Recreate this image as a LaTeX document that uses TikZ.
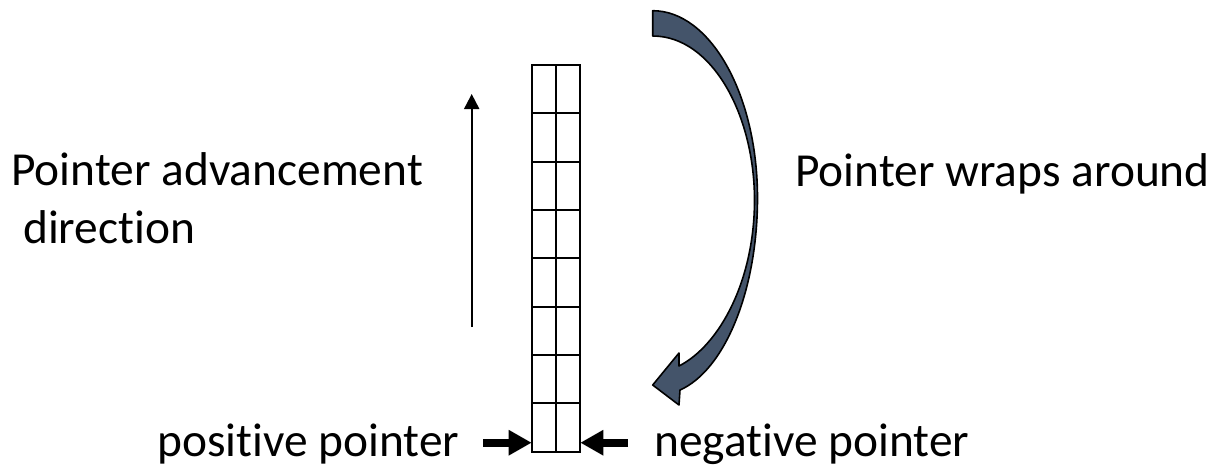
\documentclass[tikz,border=0pt]{standalone}
\usepackage{fontspec}
\setmainfont{Carlito}[Ligatures=NoCommon]
\usepackage{tikz}
\usetikzlibrary{arrows.meta, calc}
\definecolor{WrapSlate}{HTML}{44546A}

\begin{document}
\begin{tikzpicture}[x=0.5pt, y=-0.5pt,
    cell/.style={rectangle, draw=black, line width=1pt, minimum width=12.15pt,
                 minimum height=24.15pt, inner sep=0pt, outer sep=0pt},
    lbl/.style={inner sep=0pt, align=left, font=\fontsize{23.7}{29}\selectfont},
    advarrow/.style={-{Triangle[width=7.5pt, length=7.5pt]}, line width=1pt},
    ptrarrow/.style={-{Triangle[width=12pt, length=11.5pt]}, line width=3.8pt},
    wraparrow/.style={fill=WrapSlate, draw=black, line width=0.8pt, line join=round}
]
    \useasboundingbox (0,0) rectangle (1216,468);
    % buffer column, row 0 at the top
    \foreach \i in {0,...,7} {
        \pgfmathsetmacro{\yc}{89.17+48.33*\i}
        \node[cell] (l\i) at (543.85,\yc) {};
        \node[cell] (r\i) at (568.15,\yc) {};
    }
    \node[lbl, anchor=base west] (advText) at (11,243.5) {Pointer advancement\\\hspace*{0.25em}direction};
    \node[lbl, anchor=base west] (wrapText) at (795,186) {Pointer wraps around};
    \node[lbl, anchor=base west] (posText) at (157,456.7) {positive pointer};
    \node[lbl, anchor=base west] (negText) at (654,456.7) {negative pointer};
    \coordinate (advTail) at (471.7,327);
    \coordinate (advHead) at (471.7,94);
    \draw[advarrow] (advTail) -- (advHead);
    \coordinate (posTail) at (483,442.7);
    \coordinate (negTail) at (628,442.7);
    \draw[ptrarrow] (posTail) -- (posTail -| l7.west);
    \draw[ptrarrow] (negTail) -- (negTail -| r7.east);
    % wrap-around arrow
    \path[wraparrow] (652.7,10.7) .. controls (710,10.7) and (757.5,94) .. (757.5,198)
        .. controls (757.5,290) and (725,370) .. (680,390)
        -- (679,405) -- (652.7,385) -- (679,353) -- (679,366)
        .. controls (720,345) and (754.5,280) .. (754.5,200)
        .. controls (754.5,115) and (712,36) .. (652.7,36) -- cycle;
\end{tikzpicture}
\end{document}
